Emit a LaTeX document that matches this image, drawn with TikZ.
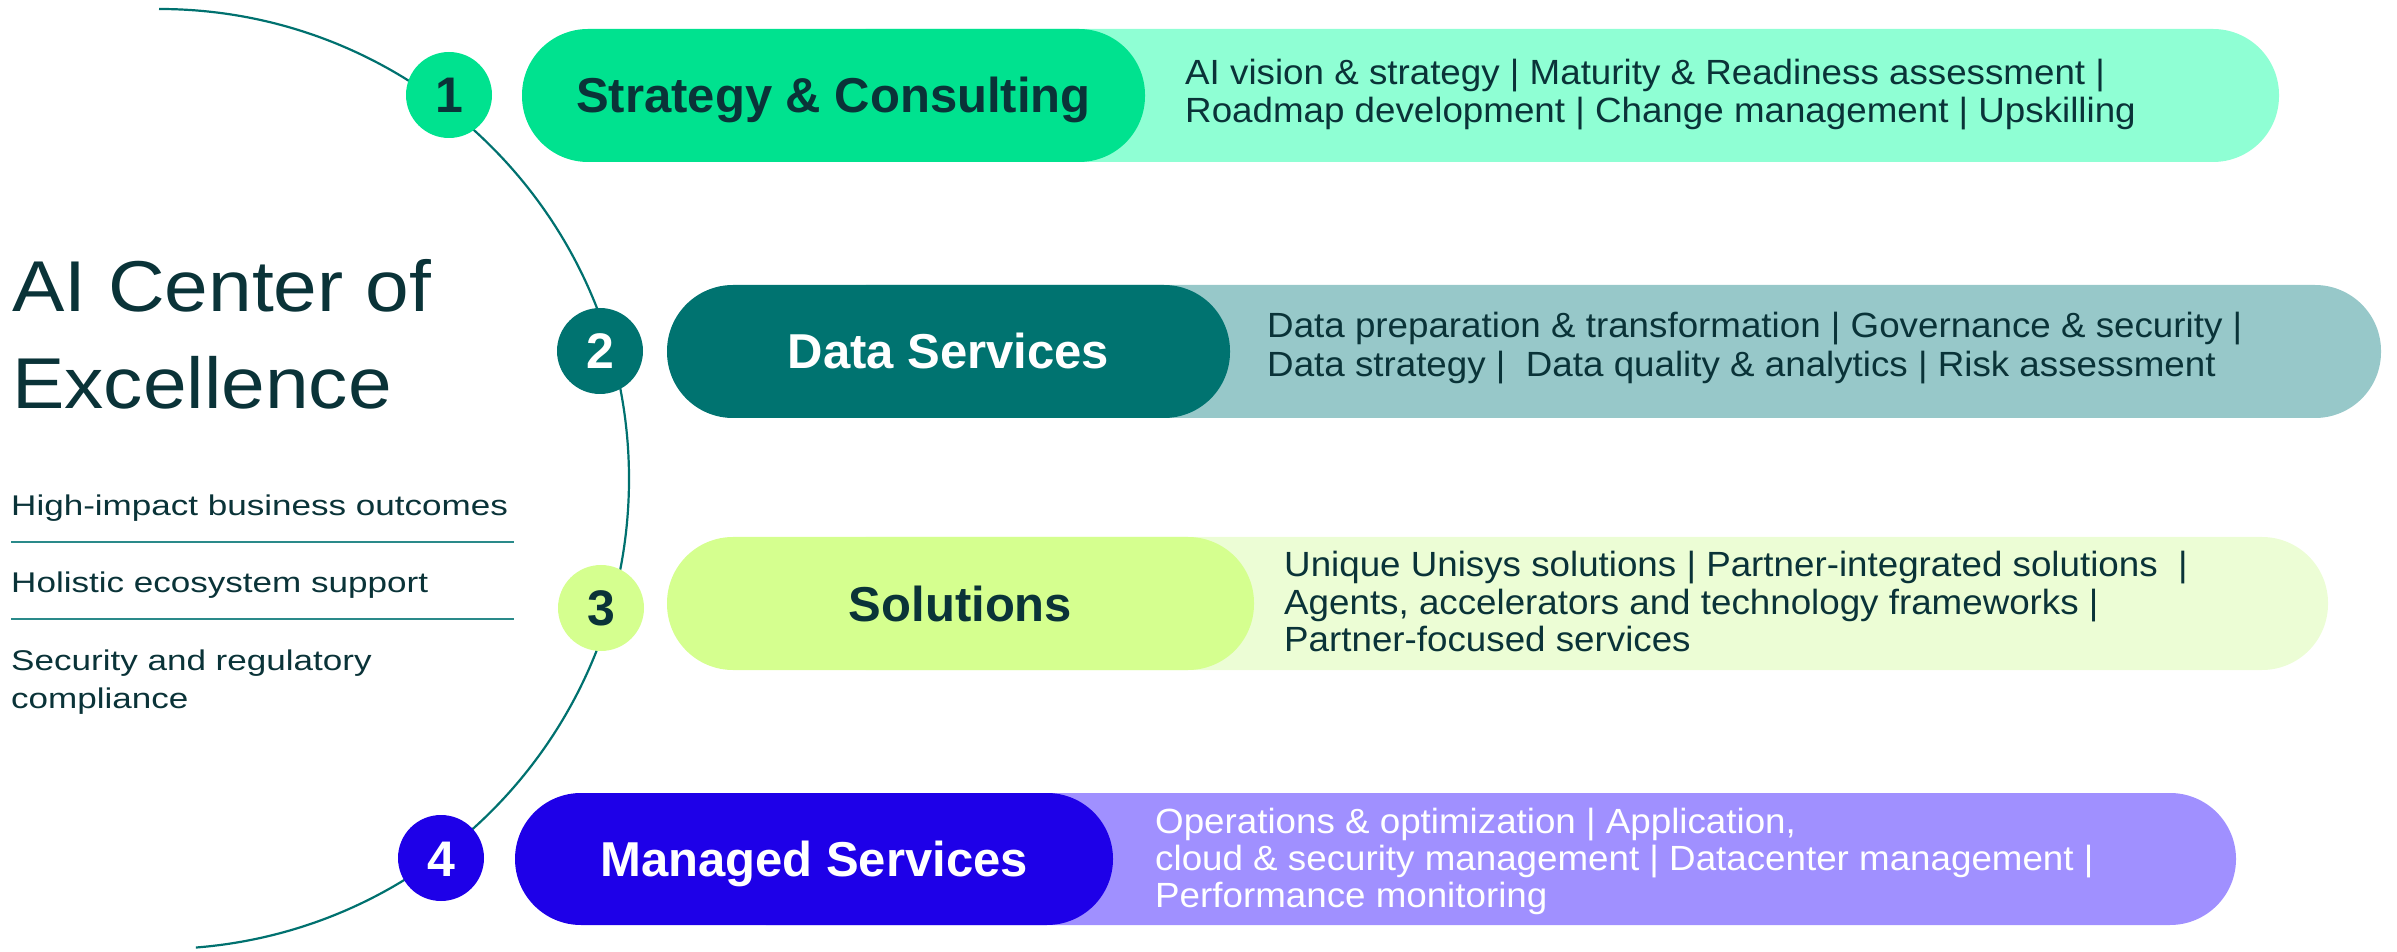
\documentclass[tikz,border=0pt]{standalone}
\usepackage{fontspec}
\setmainfont{Liberation Sans}
\newfontfamily\descfont{Liberation Sans}[FakeStretch=1.05]
\newfontfamily\leftfont{Liberation Sans}[FakeStretch=1.23]
\newfontfamily\headfont{Liberation Sans}[FakeStretch=1.09]
\definecolor{ink}{HTML}{0A3338}
\definecolor{arcc}{HTML}{00716F}
\definecolor{ga}{HTML}{00E28F}
\definecolor{gb}{HTML}{8FFFD4}
\definecolor{ta}{HTML}{007370}
\definecolor{tb}{HTML}{97C8C9}
\definecolor{la}{HTML}{D5FF8F}
\definecolor{lb}{HTML}{ECFDD5}
\definecolor{ba}{HTML}{1E00E8}
\definecolor{bb}{HTML}{A090FF}
\definecolor{sep}{HTML}{2A8A8A}
\begin{document}
\begin{tikzpicture}[x=1pt,y=1pt,
  darkpill/.style={rectangle, rounded corners=66pt, minimum height=133pt, inner sep=0pt,
    font={\bfseries\fontsize{49pt}{55pt}\selectfont}, text height=35pt, text depth=0pt},
  lightpill/.style={rectangle, rounded corners=66pt, minimum height=133pt, inner sep=0pt},
  badge/.style={circle, minimum size=86pt, inner sep=0pt,
    font={\bfseries\fontsize{50pt}{55pt}\selectfont}, text height=36pt, text depth=0pt},
  desc/.style={anchor=base west, inner sep=0pt, font={\descfont\fontsize{35pt}{38pt}\selectfont}},
  lefttext/.style={anchor=base west, inner sep=0pt, text=ink, font={\leftfont\fontsize{28.5pt}{34pt}\selectfont}},
  headtext/.style={anchor=base west, inner sep=0pt, text=ink, font={\headfont\fontsize{72pt}{80pt}\selectfont}},
  sepline/.style={draw=sep, line width=1.6pt}
]
\useasboundingbox (0,0) rectangle (2397,951);

% arc
\draw[arcc, line width=2.2pt] (159,472) ++(90:470) arc[start angle=90, end angle=-85.5, radius=470];

% light pills
\node[lightpill, fill=gb, minimum width=1479pt] (l1) at (1539.5,855.5) {};
\node[lightpill, fill=tb, minimum width=1581pt] (l2) at (1590.5,599.5) {};
\node[lightpill, fill=lb, minimum width=1528pt] (l3) at (1564,347.5) {};
\node[lightpill, fill=bb, minimum width=1536pt, minimum height=132pt] (l4) at (1468,92) {};

% dark pills with titles
\node[darkpill, fill=ga, text=ink, minimum width=623pt] (p1) at (833.5,855.5) {Strategy \& Consulting};
\node[darkpill, fill=ta, text=white, minimum width=563pt] (p2) at (948.5,599.5) {Data Services};
\node[darkpill, fill=la, text=ink, minimum width=587pt] (p3) at (960.5,347.5) {Solutions};
\node[darkpill, fill=ba, text=white, minimum width=598pt, minimum height=132pt] (p4) at (814,92) {Managed Services};

% badges
\node[badge, fill=ga, text=ink] (n1) at (449,856) {1};
\node[badge, fill=ta, text=white] (n2) at (600,600) {2};
\node[badge, fill=la, text=ink] (n3) at (601,343) {3};
\node[badge, fill=ba, text=white] (n4) at (441,93) {4};

% descriptions
\node[desc, text=ink] (d1a) at (1185,866) {AI vision \& strategy | Maturity \& Readiness assessment |};
\node[desc, text=ink] (d1b) at (1185,828) {Roadmap development | Change management | Upskilling};
\node[desc, text=ink] (d2a) at (1267,613) {Data preparation \& transformation | Governance \& security |};
\node[desc, text=ink] (d2b) at (1267,574) {Data strategy |\ \ Data quality \& analytics | Risk assessment};
\node[desc, text=ink] (d3a) at (1284,374) {Unique Unisys solutions | Partner-integrated solutions\ \ |};
\node[desc, text=ink] (d3b) at (1284,337) {Agents, accelerators and technology frameworks |};
\node[desc, text=ink] (d3c) at (1284,300) {Partner-focused services};
\node[desc, text=white] (d4a) at (1155,118) {Operations \& optimization | Application,};
\node[desc, text=white] (d4b) at (1155,81) {cloud \& security management | Datacenter management |};
\node[desc, text=white] (d4c) at (1155,44) {Performance monitoring};

% left side
\node[headtext] (h1) at (12,639) {AI Center of};
\node[headtext] (h2) at (12,542) {Excellence};
\node[lefttext] (t1) at (11,435) {High-impact business outcomes};
\coordinate (s1a) at (11,409);
\coordinate (s1b) at (514,409);
\draw[sepline] (s1a) -- (s1b);
\node[lefttext] (t2) at (11,358) {Holistic ecosystem support};
\coordinate (s2a) at (11,332);
\coordinate (s2b) at (514,332);
\draw[sepline] (s2a) -- (s2b);
\node[lefttext] (t3) at (11,281) {Security and regulatory};
\node[lefttext] (t4) at (11,243) {compliance};
\end{tikzpicture}
\end{document}
